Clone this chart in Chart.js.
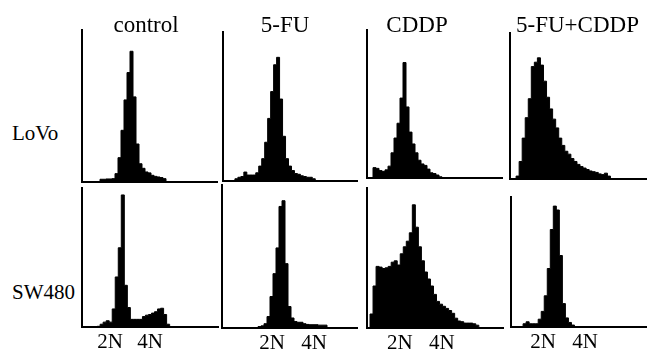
<!DOCTYPE html>
<html><head><meta charset="utf-8">
<script src="https://cdn.jsdelivr.net/npm/chart.js@4.4.1/dist/chart.umd.min.js"></script>
<style>
html,body{margin:0;padding:0;background:#fff;width:647px;height:358px;overflow:hidden;position:relative;font-family:"Liberation Serif","Times New Roman",serif;}
canvas{position:absolute;}
.t{position:absolute;font-size:23px;line-height:23px;white-space:nowrap;color:#000;transform:translateX(-50%);}
.r{position:absolute;font-size:21px;line-height:21px;white-space:nowrap;color:#000;}
</style></head><body>
<script>
// ---- data (DNA content histograms, % of axis height per channel bin) ----
const conditions = ['control', '5-FU', 'CDDP', '5-FU+CDDP'];
const cellLines = ['LoVo', 'SW480'];
const ploidyLabels = ['2N', '4N'];
// channel positions of the 2N / 4N marks for each SW480 panel
const ploidyChannels = [[9.3, 22.5], [16.7, 30.7], [10.9, 24.8], [10.6, 24.5]];

const lovoControl = [0,0,0,0,0,0,1.8,1.8,2,2,2.2,5.5,16,34,54,72,86,56,25,12,9,6.6,6,4.4,3.7,3.3,2.9,2.2,0];
const lovo5FU = [0,0,0,0,1.5,2.5,3,6,4,4,4,5.5,10,15,26,42,60,78,83,55,30,15,10,7,5,4.5,3.5,3,2.5,2.5,1.5,0];
const lovoCDDP = [0,0,7,6.5,5,4.5,5.5,8,17,27,37,54,78,48,31,23,17,12,9.5,8.5,6,3.5,3,2,0.8,0];
const lovoCombo = [0,0,2,12,28,42,55,77,80,83,78,67,56,48,41,35,28,23,19,17,14,12,10,8.5,7.5,6.5,5.5,5,4.5,3.5,3,4,2,0];

const sw480Control = [0,0,0,0,0,0.5,2,3.5,4.5,3.5,13,36,57,95,30,14,5.5,5.5,5.5,5.5,7.5,8.5,9,10,11,13,13.5,9,2,0];
const sw4805FU = [0,0,0,0,0,0,0,0,0,0,0,0,1,1.5,3,8,22,38,56,85,89,45,15,7,4.5,4,4,3,2.5,2.3,2.3,2.3,2,2,2,0];
const sw480CDDP = [0,10,30,44,43.5,42.5,43,44,47,48,45,53,58,62,68,88,72,58,48,40,35,30,24,19,17,15.5,14,12.5,10.5,7,5,4.5,3.5,3.5,3.5,3,2,0];
const sw480Combo = [0,0,0,0,2.5,4,2.5,2.5,2.5,6,12,24,45,75,93,90,55,18,7,3.5,1.5,0];

const lovoSeries = [lovoControl, lovo5FU, lovoCDDP, lovoCombo];
const sw480Series = [sw480Control, sw4805FU, sw480CDDP, sw480Combo];

// ---- layout (axis frames in page pixels) ----
const frames = [
  [{L:82,T:30,R:217,B:182},{L:223,T:32,R:357,B:181},{L:367,T:30,R:502,B:178},{L:510,T:33,R:647,B:179}],
  [{L:82,T:188,R:218,B:332},{L:222,T:185,R:357,B:333},{L:367,T:188,R:503,B:333},{L:511,T:197,R:647,B:332}]
];
const titleCenters = [146, 285, 417, 577.5];
const rowLabelTops = [123.4, 282.4];
const FONT = 'Liberation Serif';
const NBINS = 45;

function makePanel(values, frame, ticks) {
  const pad = 2, band = ticks ? 26 : 0;
  const c = document.createElement('canvas');
  const w = frame.R - frame.L + 2 * pad;
  const h = frame.B - frame.T + pad + (ticks ? band : pad);
  c.width = w; c.height = h;
  c.style.width = w + 'px'; c.style.height = h + 'px';
  c.style.left = (frame.L - pad) + 'px'; c.style.top = (frame.T - pad) + 'px';
  document.body.appendChild(c);
  const pts = values.map((v, i) => ({x: i, y: v}));
  new Chart(c, {
    type: 'line',
    data: {datasets: [{data: pts, stepped: true, fill: 'origin', backgroundColor: '#000', borderColor: '#000', borderWidth: 1, pointRadius: 0}]},
    options: {
      responsive: false, animation: false, devicePixelRatio: 1, events: [],
      layout: {padding: {left: pad, right: pad, top: pad, bottom: ticks ? 0 : pad}},
      plugins: {legend: {display: false}, tooltip: {enabled: false}, title: {display: false}},
      scales: {
        x: {
          type: 'linear', min: 0, max: NBINS,
          grid: {display: false, drawTicks: false},
          border: {display: true, color: '#000', width: 2},
          ticks: ticks ? {display: true, autoSkip: false, maxRotation: 0, padding: 5, color: '#000',
                   font: {family: FONT, size: 21, lineHeight: 1},
                   callback: (v, i) => ploidyLabels[i]} : {display: false},
          afterBuildTicks: ticks ? (s) => { s.ticks = ticks.map(v => ({value: v})); } : undefined
        },
        y: {
          min: 0, max: 100,
          grid: {display: false, drawTicks: false},
          border: {display: true, color: '#000', width: 2},
          ticks: {display: false}
        }
      }
    }
  });
}

lovoSeries.forEach((s, i) => makePanel(s, frames[0][i], null));
sw480Series.forEach((s, i) => makePanel(s, frames[1][i], ploidyChannels[i]));

conditions.forEach((name, i) => {
  const d = document.createElement('div');
  d.className = 't'; d.textContent = name;
  d.style.left = titleCenters[i] + 'px'; d.style.top = '12.8px';
  document.body.appendChild(d);
});
cellLines.forEach((name, i) => {
  const d = document.createElement('div');
  d.className = 'r'; d.textContent = name;
  d.style.left = '12px'; d.style.top = rowLabelTops[i] + 'px';
  document.body.appendChild(d);
});
</script>
</body></html>
